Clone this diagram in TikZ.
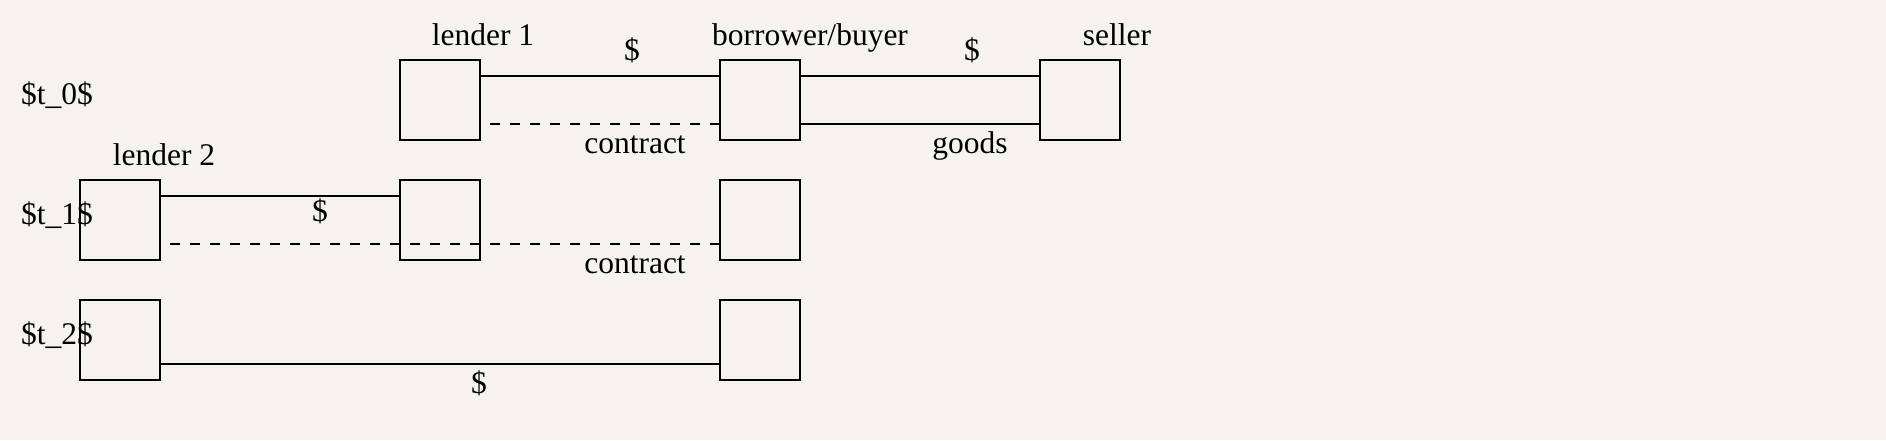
\documentclass[tikz,border=0pt]{standalone}
\usepackage{fontspec}
\setmainfont{Liberation Serif}
\definecolor{bgcol}{RGB}{246,243,239}
\begin{document}
\begin{tikzpicture}[x=0.5pt,y=-0.5pt,
  every node/.style={font=\fontsize{15.75pt}{18pt}\selectfont, inner sep=0pt, outer sep=0pt},
  agent/.style={draw, line width=1.3pt, minimum width=40pt, minimum height=40pt},
  flow/.style={line width=1.3pt},
  promise/.style={line width=1.3pt, dash pattern=on 5pt off 5pt, dash phase=5pt},
  lbl/.style={anchor=base}]
\fill[bgcol] (0,0) rectangle (1886,440);
\useasboundingbox (0,0) rectangle (1886,440);
% time labels
\node[anchor=base west] (tz) at (21,104) {\$t\_0\$};
\node[anchor=base west] (to) at (21,224) {\$t\_1\$};
\node[anchor=base west] (tt) at (21,344) {\$t\_2\$};
% t0 boxes
\node[agent] (la) at (440,100) {};
\node[agent] (ba) at (760,100) {};
\node[agent] (sa) at (1080,100) {};
% t1 boxes
\node[agent] (lb) at (120,220) {};
\node[agent] (lc) at (440,220) {};
\node[agent] (bb) at (760,220) {};
% t2 boxes
\node[agent] (ld) at (120,340) {};
\node[agent] (bc) at (760,340) {};
% agent names
\node[lbl] (nla) at (483,45) {lender 1};
\node[lbl] (nba) at (810,45) {borrower/buyer};
\node[lbl] (nsa) at (1117,45) {seller};
\node[lbl] (nlb) at (164,165) {lender 2};
% t0 connectors
\draw[flow] ([yshift=12pt]la.east) -- ([yshift=12pt]ba.west);
\draw[promise] ([yshift=-12pt]la.east) -- ([yshift=-12pt]ba.west);
\draw[flow] ([yshift=12pt]ba.east) -- ([yshift=12pt]sa.west);
\draw[flow] ([yshift=-12pt]ba.east) -- ([yshift=-12pt]sa.west);
\node[lbl] (d1) at (632,60) {\$};
\node[lbl] (c1) at (635,153) {contract};
\node[lbl] (d2) at (972,60) {\$};
\node[lbl] (g1) at (970,153) {goods};
% t1 connectors
\draw[flow] ([yshift=12pt]lb.east) -- ([yshift=12pt]lc.west);
\draw[promise] ([yshift=-12pt]lb.east) -- ([yshift=-12pt]bb.west);
\node[lbl] (d3) at (320,221) {\$};
\node[lbl] (c2) at (635,273) {contract};
% t2 connectors
\draw[flow] ([yshift=-12pt]ld.east) -- ([yshift=-12pt]bc.west);
\node[lbl] (d4) at (479,393) {\$};
\end{tikzpicture}
\end{document}
